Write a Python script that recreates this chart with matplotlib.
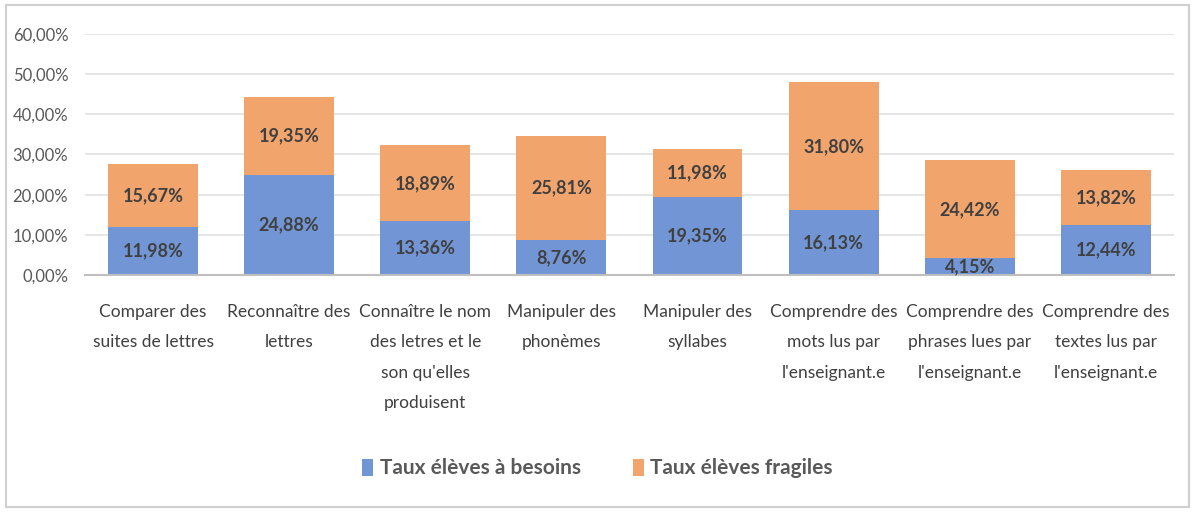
import matplotlib.pyplot as plt
from matplotlib import font_manager
import numpy as np

categories = [
    "Comparer des\nsuites de lettres",
    "Reconnaître des\nlettres",
    "Connaître le nom\ndes letres et le\nson qu'elles\nproduisent",
    "Manipuler des\nphonèmes",
    "Manipuler des\nsyllabes",
    "Comprendre des\nmots lus par\nl'enseignant.e",
    "Comprendre des\nphrases lues par\nl'enseignant.e",
    "Comprendre des\ntextes lus par\nl'enseignant.e",
]
besoins = [11.98, 24.88, 13.36, 8.76, 19.35, 16.13, 4.15, 12.44]
fragiles = [15.67, 19.35, 18.89, 25.81, 11.98, 31.80, 24.42, 13.82]
series_names = ["Taux élèves à besoins", "Taux élèves fragiles"]
yticks = [0, 10, 20, 30, 40, 50, 60]

available = {f.name for f in font_manager.fontManager.ttflist}
font = "Lato" if "Lato" in available else "Liberation Sans"
plt.rcParams['font.family'] = [font, 'DejaVu Sans']

blue = "#7296d5"
orange = "#f2a46d"

fig = plt.figure(figsize=(11.95, 5.12), dpi=100)
ax = fig.add_axes([0.0711, 0.4629, 0.9113, 0.4707])

x = np.arange(len(categories))
b1 = ax.bar(x, besoins, width=0.66, color=blue, label=series_names[0], zorder=2)
b2 = ax.bar(x, fragiles, width=0.66, bottom=besoins, color=orange, label=series_names[1], zorder=2)

for bars, vals, bottoms in [(b1, besoins, [0] * len(besoins)), (b2, fragiles, besoins)]:
    for xi, v, b in zip(x, vals, bottoms):
        ax.text(xi, b + v / 2, f"{v:.2f}%".replace(".", ","), ha="center", va="center",
                fontsize=13, fontweight="bold", color="#404040", zorder=3)

ax.set_xlim(-0.5, len(categories) - 0.5)
ax.set_ylim(0, 60)
ax.set_yticks(yticks)
ax.set_yticklabels([f"{t:.2f}%".replace(".", ",") for t in yticks], fontsize=12, color="#595959")
ax.set_xticks(x)
ax.set_xticklabels(categories, fontsize=12.5, color="#404040", linespacing=2.1, va="top")
ax.tick_params(axis="both", length=0)
ax.tick_params(axis="x", pad=21)
ax.tick_params(axis="y", pad=12)
ax.grid(axis="y", color="#e0e0e0", linewidth=1.2, zorder=0)
for s in ["top", "right", "left"]:
    ax.spines[s].set_visible(False)
ax.spines["bottom"].set_color("#bfbfbf")
ax.spines["bottom"].set_linewidth(1.5)

leg = fig.legend(loc="center", bbox_to_anchor=(0.5, 0.085), ncol=2, frameon=False,
                 fontsize=15, handlelength=0.55, handleheight=0.9, handletextpad=0.3,
                 columnspacing=2.5)
for t in leg.get_texts():
    t.set_fontweight("bold")
    t.set_color("#595959")

border = plt.Rectangle((0.005, 0.01), 0.99, 0.98, transform=fig.transFigure,
                       fill=False, edgecolor="#d0d0d0", linewidth=1.5)
fig.patches.append(border)

fig.savefig("out.png", dpi=100)
